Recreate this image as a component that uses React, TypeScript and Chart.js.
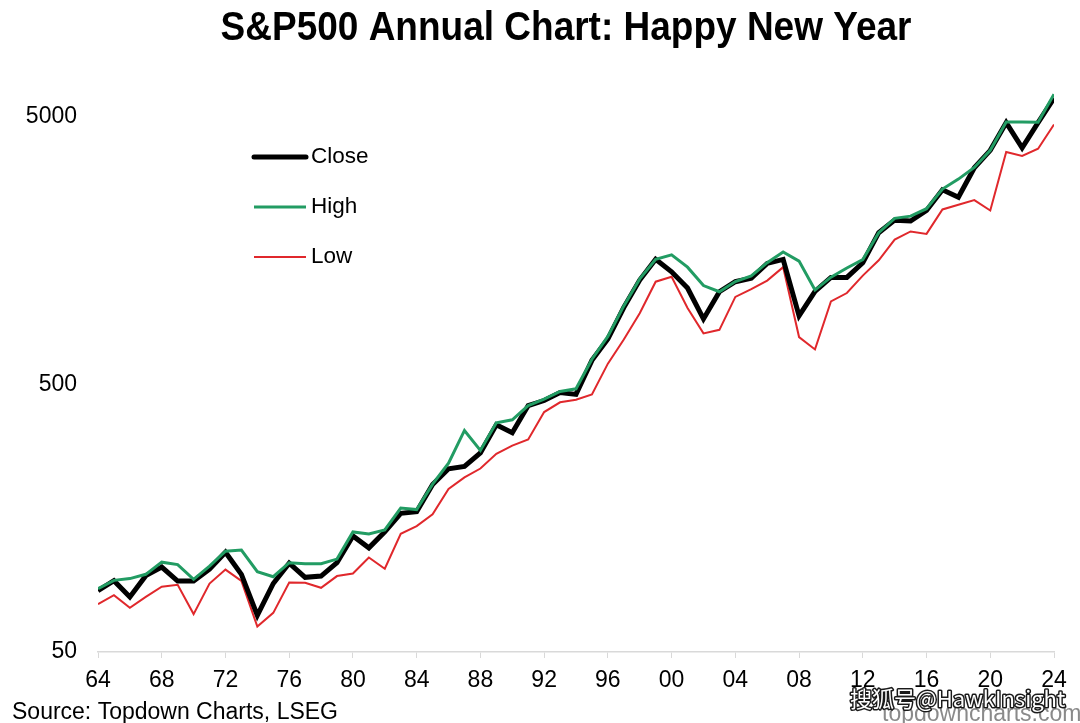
import React, { useEffect, useRef } from "react";
import { Chart, registerables } from "chart.js";

Chart.register(...registerables);

const years: number[] = [
  1964, 1965, 1966, 1967, 1968, 1969, 1970, 1971, 1972, 1973, 1974, 1975, 1976, 1977, 1978, 1979,
  1980, 1981, 1982, 1983, 1984, 1985, 1986, 1987, 1988, 1989, 1990, 1991, 1992, 1993, 1994, 1995,
  1996, 1997, 1998, 1999, 2000, 2001, 2002, 2003, 2004, 2005, 2006, 2007, 2008, 2009, 2010, 2011,
  2012, 2013, 2014, 2015, 2016, 2017, 2018, 2019, 2020, 2021, 2022, 2023, 2024,
];

const closeValues: number[] = [
  84.75, 92.43, 80.33, 96.47, 103.86, 92.06, 92.15, 102.09, 118.05, 97.55, 68.56, 90.19, 107.46, 95.1, 96.11, 107.94,
  135.76, 122.55, 140.64, 164.93, 167.24, 211.28, 242.17, 247.08, 277.72, 353.4, 330.22, 417.09, 435.71, 466.45, 459.27, 615.93,
  740.74, 970.43, 1229.23, 1469.25, 1320.28, 1148.08, 879.82, 1111.92, 1211.92, 1248.29, 1418.3, 1468.36, 903.25, 1115.1, 1257.64, 1257.6,
  1426.19, 1848.36, 2058.9, 2043.94, 2238.83, 2673.61, 2506.85, 3230.78, 3756.07, 4766.18, 3839.5, 4769.83, 5881.63,
];

const highValues: number[] = [
  86.28, 92.63, 94.06, 97.59, 108.37, 106.16, 93.46, 104.77, 119.12, 120.24, 99.8, 95.61, 107.83, 107.0, 106.99, 111.27,
  140.52, 138.12, 143.02, 172.65, 170.41, 212.02, 254.0, 336.77, 283.66, 359.8, 368.95, 417.09, 441.28, 470.94, 482.0, 621.69,
  757.03, 983.79, 1241.81, 1469.25, 1527.46, 1373.73, 1172.51, 1111.92, 1213.55, 1272.74, 1427.09, 1565.15, 1447.16, 1127.78, 1259.78, 1363.61,
  1465.77, 1848.36, 2090.57, 2130.82, 2271.72, 2690.16, 2930.75, 3240.02, 3756.07, 4793.06, 4796.56, 4783.35, 6090.27,
];

const lowValues: number[] = [
  75.43, 81.6, 73.2, 80.38, 87.72, 89.2, 69.29, 90.16, 101.67, 92.16, 62.28, 70.04, 90.9, 90.71, 86.9, 96.13,
  98.22, 112.77, 102.42, 138.34, 147.82, 163.68, 203.49, 224.84, 242.63, 275.31, 295.46, 311.49, 394.5, 429.05, 438.92, 459.11,
  598.48, 737.01, 923.32, 1212.19, 1264.74, 965.8, 776.76, 800.73, 1063.23, 1137.5, 1223.69, 1374.12, 752.44, 676.53, 1022.58, 1099.23,
  1277.06, 1457.15, 1741.89, 1867.61, 1829.08, 2257.83, 2351.1, 2447.89, 2237.4, 3700.65, 3577.03, 3808.1, 4688.68,
];

const yTicks: number[] = [50, 500, 5000];
const xTickStep = 4;

const titleText = "S&P500 Annual Chart: Happy New Year";
const sourceText = "Source: Topdown Charts, LSEG";
const watermarkText = "搜狐号@HawkInsight";
const siteText = "topdowncharts.com";

const FONT = "'Liberation Sans', Arial, Helvetica, sans-serif";

const decorPlugin = {
  id: "decor",
  afterDraw(chart: any) {
    const ctx = chart.ctx as CanvasRenderingContext2D;
    // Title
    ctx.save();
    ctx.fillStyle = "#000";
    ctx.font = `bold 37px ${FONT}`;
    ctx.textAlign = "center";
    ctx.textBaseline = "alphabetic";
    ctx.translate(566, 40);
    ctx.scale(1, 1.08);
    ctx.fillText(titleText, 0, 0);
    ctx.restore();

    // Legend
    ctx.save();
    const legendY = [157, 207, 257];
    chart.data.datasets.forEach((ds: any, i: number) => {
      const y = legendY[i];
      ctx.beginPath();
      ctx.strokeStyle = ds.borderColor;
      ctx.lineWidth = ds.borderWidth;
      ctx.lineCap = i === 0 ? "round" : "butt";
      ctx.moveTo(254, y);
      ctx.lineTo(306, y);
      ctx.stroke();
      ctx.fillStyle = "#000";
      ctx.font = `22.5px ${FONT}`;
      ctx.textAlign = "left";
      ctx.textBaseline = "middle";
      ctx.fillText(ds.label, 311, y);
    });
    ctx.restore();

    // Source
    ctx.save();
    ctx.fillStyle = "#000";
    ctx.font = `23px ${FONT}`;
    ctx.textAlign = "left";
    ctx.textBaseline = "alphabetic";
    ctx.fillText(sourceText, 12, 719);
    ctx.restore();

    // Site watermark
    ctx.save();
    ctx.fillStyle = "#8a8a8a";
    ctx.font = `23px ${FONT}`;
    ctx.textAlign = "left";
    ctx.textBaseline = "alphabetic";
    ctx.fillText(siteText, 882, 721);
    ctx.restore();

    // Sohu watermark
    ctx.save();
    ctx.font = `22px 'Noto Sans CJK SC', ${FONT}`;
    ctx.textAlign = "left";
    ctx.textBaseline = "alphabetic";
    ctx.lineWidth = 3;
    ctx.strokeStyle = "#1a1a1a";
    ctx.lineJoin = "round";
    ctx.strokeText(watermarkText, 850, 707);
    ctx.fillStyle = "#ffffff";
    ctx.fillText(watermarkText, 850, 707);
    ctx.restore();
  },
};

export default function App() {
  const canvasRef = useRef<HTMLCanvasElement | null>(null);

  useEffect(() => {
    if (!canvasRef.current) return;
    const toPoints = (vals: number[]) => years.map((yr, i) => ({ x: yr, y: vals[i] }));
    const chart = new Chart(canvasRef.current, {
      type: "line",
      data: {
        datasets: [
          {
            label: "Close",
            data: toPoints(closeValues),
            borderColor: "#000000",
            borderWidth: 5,
            pointRadius: 0,
            tension: 0,
            order: 2,
            borderJoinStyle: "miter",
          },
          {
            label: "High",
            data: toPoints(highValues),
            borderColor: "#229c63",
            borderWidth: 3,
            pointRadius: 0,
            tension: 0,
            order: 1,
          },
          {
            label: "Low",
            data: toPoints(lowValues),
            borderColor: "#e0282c",
            borderWidth: 2,
            pointRadius: 0,
            tension: 0,
            order: 3,
          },
        ],
      },
      options: {
        responsive: false,
        animation: false,
        devicePixelRatio: 1,
        layout: { padding: { top: 78, right: 26, left: 0, bottom: 0 } },
        plugins: {
          legend: { display: false },
          title: { display: false },
          tooltip: { enabled: false },
        },
        scales: {
          x: {
            type: "linear",
            min: years[0],
            max: years[years.length - 1],
            afterBuildTicks: (scale: any) => {
              const t: { value: number }[] = [];
              for (let v = years[0]; v <= years[years.length - 1]; v += xTickStep) t.push({ value: v });
              scale.ticks = t;
            },
            afterFit: (scale: any) => {
              scale.height = 71;
            },
            ticks: {
              autoSkip: false,
              maxRotation: 0,
              padding: 9,
              color: "#000",
              font: { family: FONT, size: 23 },
              callback: (v: any) => String(Number(v) % 100).padStart(2, "0"),
            },
            grid: {
              display: true,
              drawOnChartArea: false,
              drawTicks: true,
              tickLength: 6,
              color: "#d9d9d9",
            },
            border: { display: true, color: "#d9d9d9", width: 1.5 },
          },
          y: {
            type: "logarithmic",
            min: 50,
            max: 7000,
            afterBuildTicks: (scale: any) => {
              scale.ticks = yTicks.map((v) => ({ value: v }));
            },
            afterFit: (scale: any) => {
              scale.width = 98;
            },
            ticks: {
              autoSkip: false,
              padding: 21,
              color: "#000",
              font: { family: FONT, size: 23 },
              callback: (v: any) => String(v),
            },
            grid: { display: false, drawTicks: false },
            border: { display: false },
          },
        },
      },
      plugins: [decorPlugin],
    } as any);
    return () => chart.destroy();
  }, []);

  return (
    <div style={{ position: "absolute", left: 0, top: 0, width: 1080, height: 723, background: "#fff" }}>
      <canvas ref={canvasRef} width={1080} height={723} style={{ display: "block" }} />
    </div>
  );
}
